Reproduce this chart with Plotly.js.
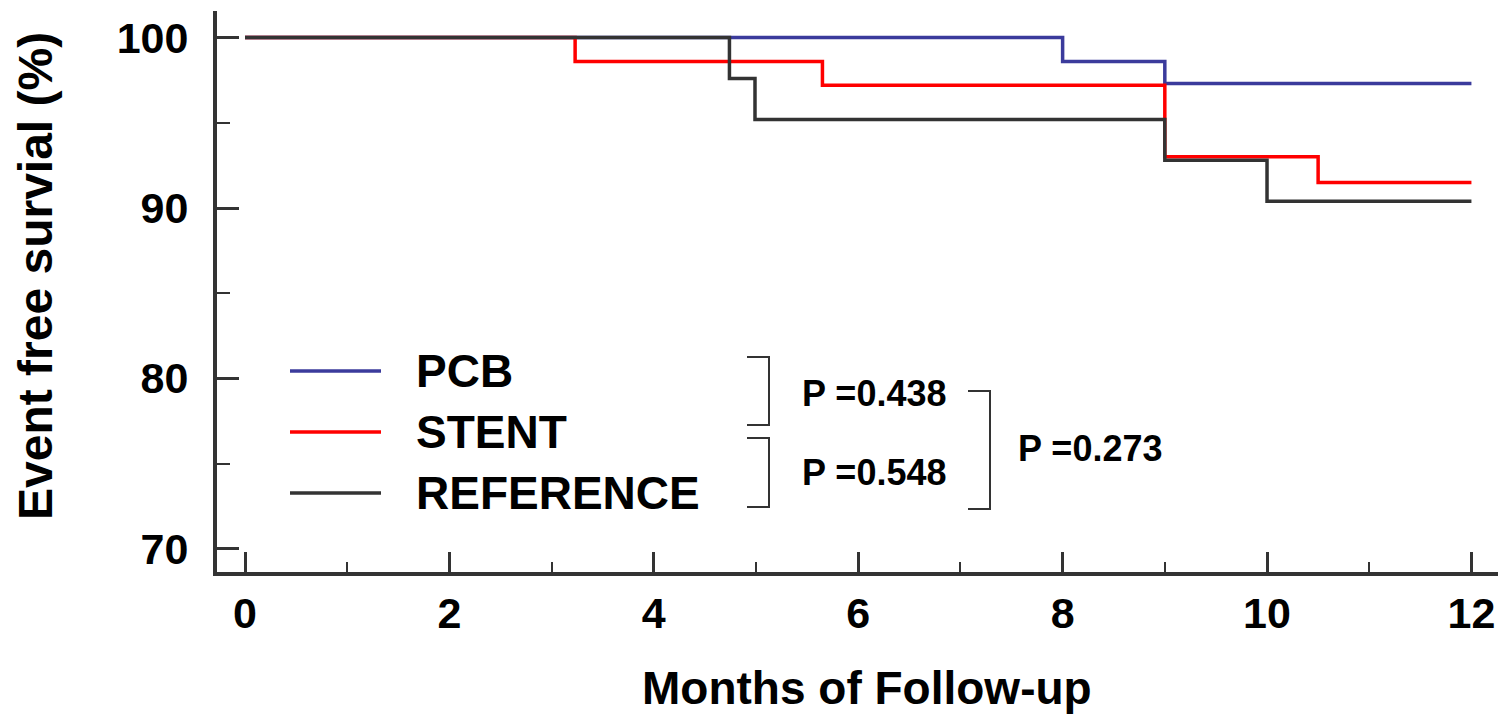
<!DOCTYPE html>
<html>
<head>
<meta charset="utf-8">
<script src="https://cdn.plot.ly/plotly-3.0.1.min.js"></script>
<style>html,body{margin:0;padding:0;background:#fff;}#chart{width:1503px;height:716px;}</style>
</head>
<body>
<div id="chart"></div>
<script>
// ---- data ----
const seriesNames = ["PCB", "STENT", "REFERENCE"];
const pcbMonths = [0, 8.0, 9.0, 12];
const pcbSurvival = [100, 98.6, 97.3, 97.3];
const stentMonths = [0, 3.23, 5.65, 9.0, 10.5, 12];
const stentSurvival = [100, 98.6, 97.2, 93.0, 91.5, 91.5];
const refMonths = [0, 4.74, 4.99, 9.0, 10.0, 12];
const refSurvival = [100, 97.6, 95.2, 92.8, 90.4, 90.4];
const xTickVals = [0, 2, 4, 6, 8, 10, 12];
const yTickVals = [70, 80, 90, 100];
const pLabels = ["P =0.438", "P =0.548", "P =0.273"];
const xTitle = "Months of Follow-up";
const yTitle = "Event free survial (%)";

// ---- layout helpers (pixel -> paper) ----
const L = 217, R = 1498, T = 11, B = 572;
const px = v => (v - L) / (R - L);
const py = v => (B - v) / (B - T);
const FONT = "Liberation Sans, Arial, sans-serif";
const colors = ["#3b3b9c", "#ff0000", "#333333"];

const traces = [
  {x: pcbMonths, y: pcbSurvival, name: seriesNames[0]},
  {x: stentMonths, y: stentSurvival, name: seriesNames[1]},
  {x: refMonths, y: refSurvival, name: seriesNames[2]}
].map((t, i) => Object.assign(t, {
  type: "scatter", mode: "lines", showlegend: false,
  line: {shape: "hv", color: colors[i], width: 3.5}
}));

const shapes = [];
const annotations = [];
// legend
const legY = [371, 432, 493];
seriesNames.forEach((n, i) => {
  shapes.push({type: "line", xref: "paper", yref: "paper", x0: px(290), x1: px(381), y0: py(legY[i]), y1: py(legY[i]),
    line: {color: colors[i], width: 3.5}});
  annotations.push({xref: "paper", yref: "paper", x: px(414), y: py(legY[i]), xanchor: "left", yanchor: "middle",
    text: n, showarrow: false, font: {family: FONT, size: 46, weight: 700, color: "#000"}});
});
// brackets
function bracket(x0, x1, y0, y1) {
  shapes.push({type: "path", xref: "paper", yref: "paper",
    path: `M ${px(x0)} ${py(y0)} L ${px(x1)} ${py(y0)} L ${px(x1)} ${py(y1)} L ${px(x0)} ${py(y1)}`,
    line: {color: "#333333", width: 2}});
}
bracket(747, 769, 357, 425);
bracket(747, 769, 438, 507);
bracket(968, 990, 391, 509);
const pPos = [[800, 393], [800, 472], [1016, 448]];
pLabels.forEach((t, i) => {
  annotations.push({xref: "paper", yref: "paper", x: px(pPos[i][0]), y: py(pPos[i][1]), xanchor: "left", yanchor: "middle",
    text: t, showarrow: false, font: {family: FONT, size: 36, weight: 700, color: "#000"}});
});
// y-axis title (placed as rotated text to match the reference position)
annotations.push({xref: "paper", yref: "paper", x: px(35), y: py(276), xanchor: "center", yanchor: "middle",
  textangle: -90, text: yTitle, showarrow: false, font: {family: FONT, size: 48, weight: 700, color: "#000"}});
// x-axis title
annotations.push({xref: "paper", yref: "paper", x: px(867), y: py(688), xanchor: "center", yanchor: "middle",
  text: xTitle, showarrow: false, font: {family: FONT, size: 46, weight: 700, color: "#000"}});

const layout = {
  width: 1503, height: 716,
  margin: {l: L, r: 1503 - R, t: T, b: 716 - B},
  paper_bgcolor: "#fff", plot_bgcolor: "#fff",
  font: {family: FONT, color: "#000"},
  xaxis: {
    range: [-0.274, 12.26], tickvals: xTickVals, ticks: "inside", ticklen: 20, tickwidth: 3, tickcolor: "#333",
    showline: true, linecolor: "#333", linewidth: 4, showgrid: false, zeroline: false,
    tickfont: {family: FONT, size: 43, weight: 700, color: "#000"},
    ticklabelstandoff: 0,
    minor: {dtick: 1, tick0: 0, ticks: "inside", ticklen: 10, tickwidth: 2, tickcolor: "#333", showgrid: false}
  },
  yaxis: {
    range: [68.64, 101.56], tickvals: yTickVals, ticks: "inside", ticklen: 22, tickwidth: 3, tickcolor: "#333",
    showline: true, linecolor: "#333", linewidth: 4, showgrid: false, zeroline: false,
    tickfont: {family: FONT, size: 43, weight: 700, color: "#000"},
    ticklabelstandoff: 16,
    minor: {dtick: 5, tick0: 0, ticks: "inside", ticklen: 13, tickwidth: 2, tickcolor: "#333", showgrid: false}
  },
  shapes: shapes,
  annotations: annotations
};

Plotly.newPlot("chart", traces, layout, {displayModeBar: false, staticPlot: true});
</script>
</body>
</html>
